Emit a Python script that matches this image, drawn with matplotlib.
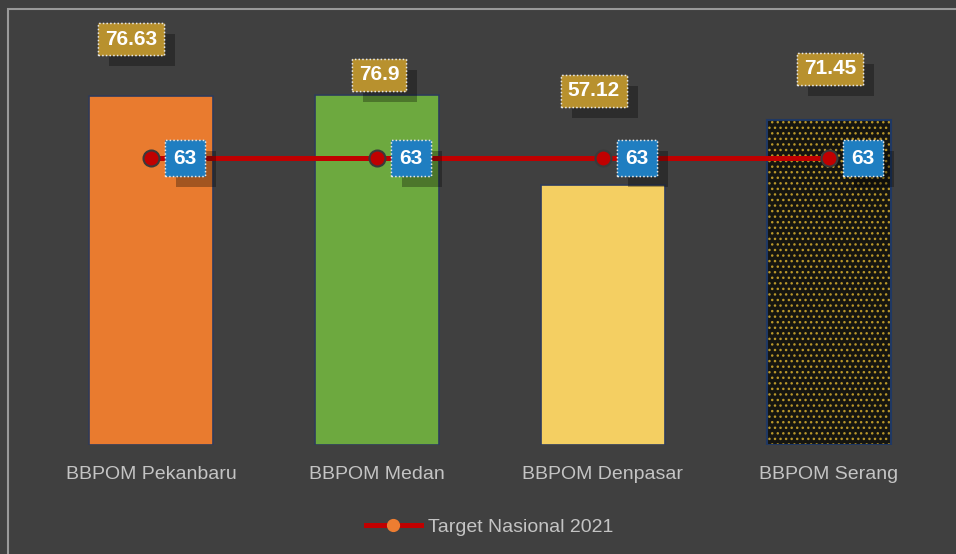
import matplotlib.pyplot as plt
import matplotlib.patheffects as pe
from matplotlib.patches import Rectangle
import numpy as np

# data
categories = ["BBPOM Pekanbaru", "BBPOM Medan", "BBPOM Denpasar", "BBPOM Serang"]
scores = [76.63, 76.9, 57.12, 71.45]
target = [63, 63, 63, 63]
target_label = "Target Nasional 2021"

bar_colors = ["#E97B2F", "#6DA93F", "#F4CF62", "#151510"]
# label offsets above bar top (pixels)
label_dx = [-20, 2, -9, 1]
label_dy = [57, 20, 94, 51]

bg = "#404040"
plt.rcParams['font.family'] = ['Liberation Sans', 'DejaVu Sans']

fig = plt.figure(figsize=(9.56, 5.54), dpi=100, facecolor=bg)
ax = fig.add_axes([38 / 956, (554 - 445) / 554, 904 / 956, 428 / 554])
ax.set_facecolor(bg)

x = np.arange(len(categories))
bars = ax.bar(x, scores, width=0.55, color=bar_colors, edgecolor="#2E3B5A", linewidth=1.2, zorder=2)
# dotted texture on the last bar
bars[3].set_hatch("...")
bars[3].set_edgecolor("#B8962A")
ax.bar(x[3], scores[3], width=0.55, facecolor="none", edgecolor="#1F3864", linewidth=1.5, zorder=3)

ax.plot(x, target, color="#C00000", linewidth=3.6, marker="o", markersize=11.5,
        markerfacecolor="#C00000", markeredgecolor="#3A3A3A", markeredgewidth=1.5,
        zorder=4, label=target_label)

shadow = [pe.withSimplePatchShadow(offset=(8, -8), shadow_rgbFace="black", alpha=0.3), pe.Normal()]

for i, v in enumerate(scores):
    t = ax.annotate(f"{v:g}", (x[i], v), xytext=(label_dx[i], label_dy[i]),
                    textcoords="offset pixels", ha="center", va="center",
                    fontsize=15, fontweight="bold", color="white", zorder=6,
                    bbox=dict(boxstyle="square,pad=0.32", facecolor="#B8912E",
                              edgecolor="#E8E8E8", linestyle=":", linewidth=1))
    t.get_bbox_patch().set_path_effects(shadow)

for i, v in enumerate(target):
    t = ax.annotate(f"{v:g}", (x[i], v), xytext=(34, 0),
                    textcoords="offset pixels", ha="center", va="center",
                    fontsize=15, fontweight="bold", color="white", zorder=6,
                    bbox=dict(boxstyle="square,pad=0.4", facecolor="#1F7EC1",
                              edgecolor="#E8E8E8", linestyle=":", linewidth=1))
    t.get_bbox_patch().set_path_effects(shadow)

ax.set_xlim(-0.5, len(categories) - 0.5)
ax.set_ylim(0, 94)
ax.set_yticks([])
ax.set_xticks(x)
ax.set_xticklabels(categories, fontsize=14, color="#C4C4C4")
ax.tick_params(axis="x", length=0, pad=15)
for s in ax.spines.values():
    s.set_visible(False)

leg = ax.legend(loc="upper center", bbox_to_anchor=(0.5, -0.13), frameon=False,
                fontsize=14, labelcolor="#C4C4C4", handlelength=2.8, handletextpad=0.4)
h = leg.legend_handles[0]
h.set_markerfacecolor("#ED7D31")
h.set_markeredgecolor("#ED7D31")
h.set_markersize(8)

# chart border
fig.patches.append(Rectangle((8 / 956, -0.1), 1.1, (554 - 9) / 554 + 0.1, transform=fig.transFigure,
                             facecolor="none", edgecolor="#9A9A9A", linewidth=1.5))

fig.savefig("out.png", dpi=100, facecolor=bg)
